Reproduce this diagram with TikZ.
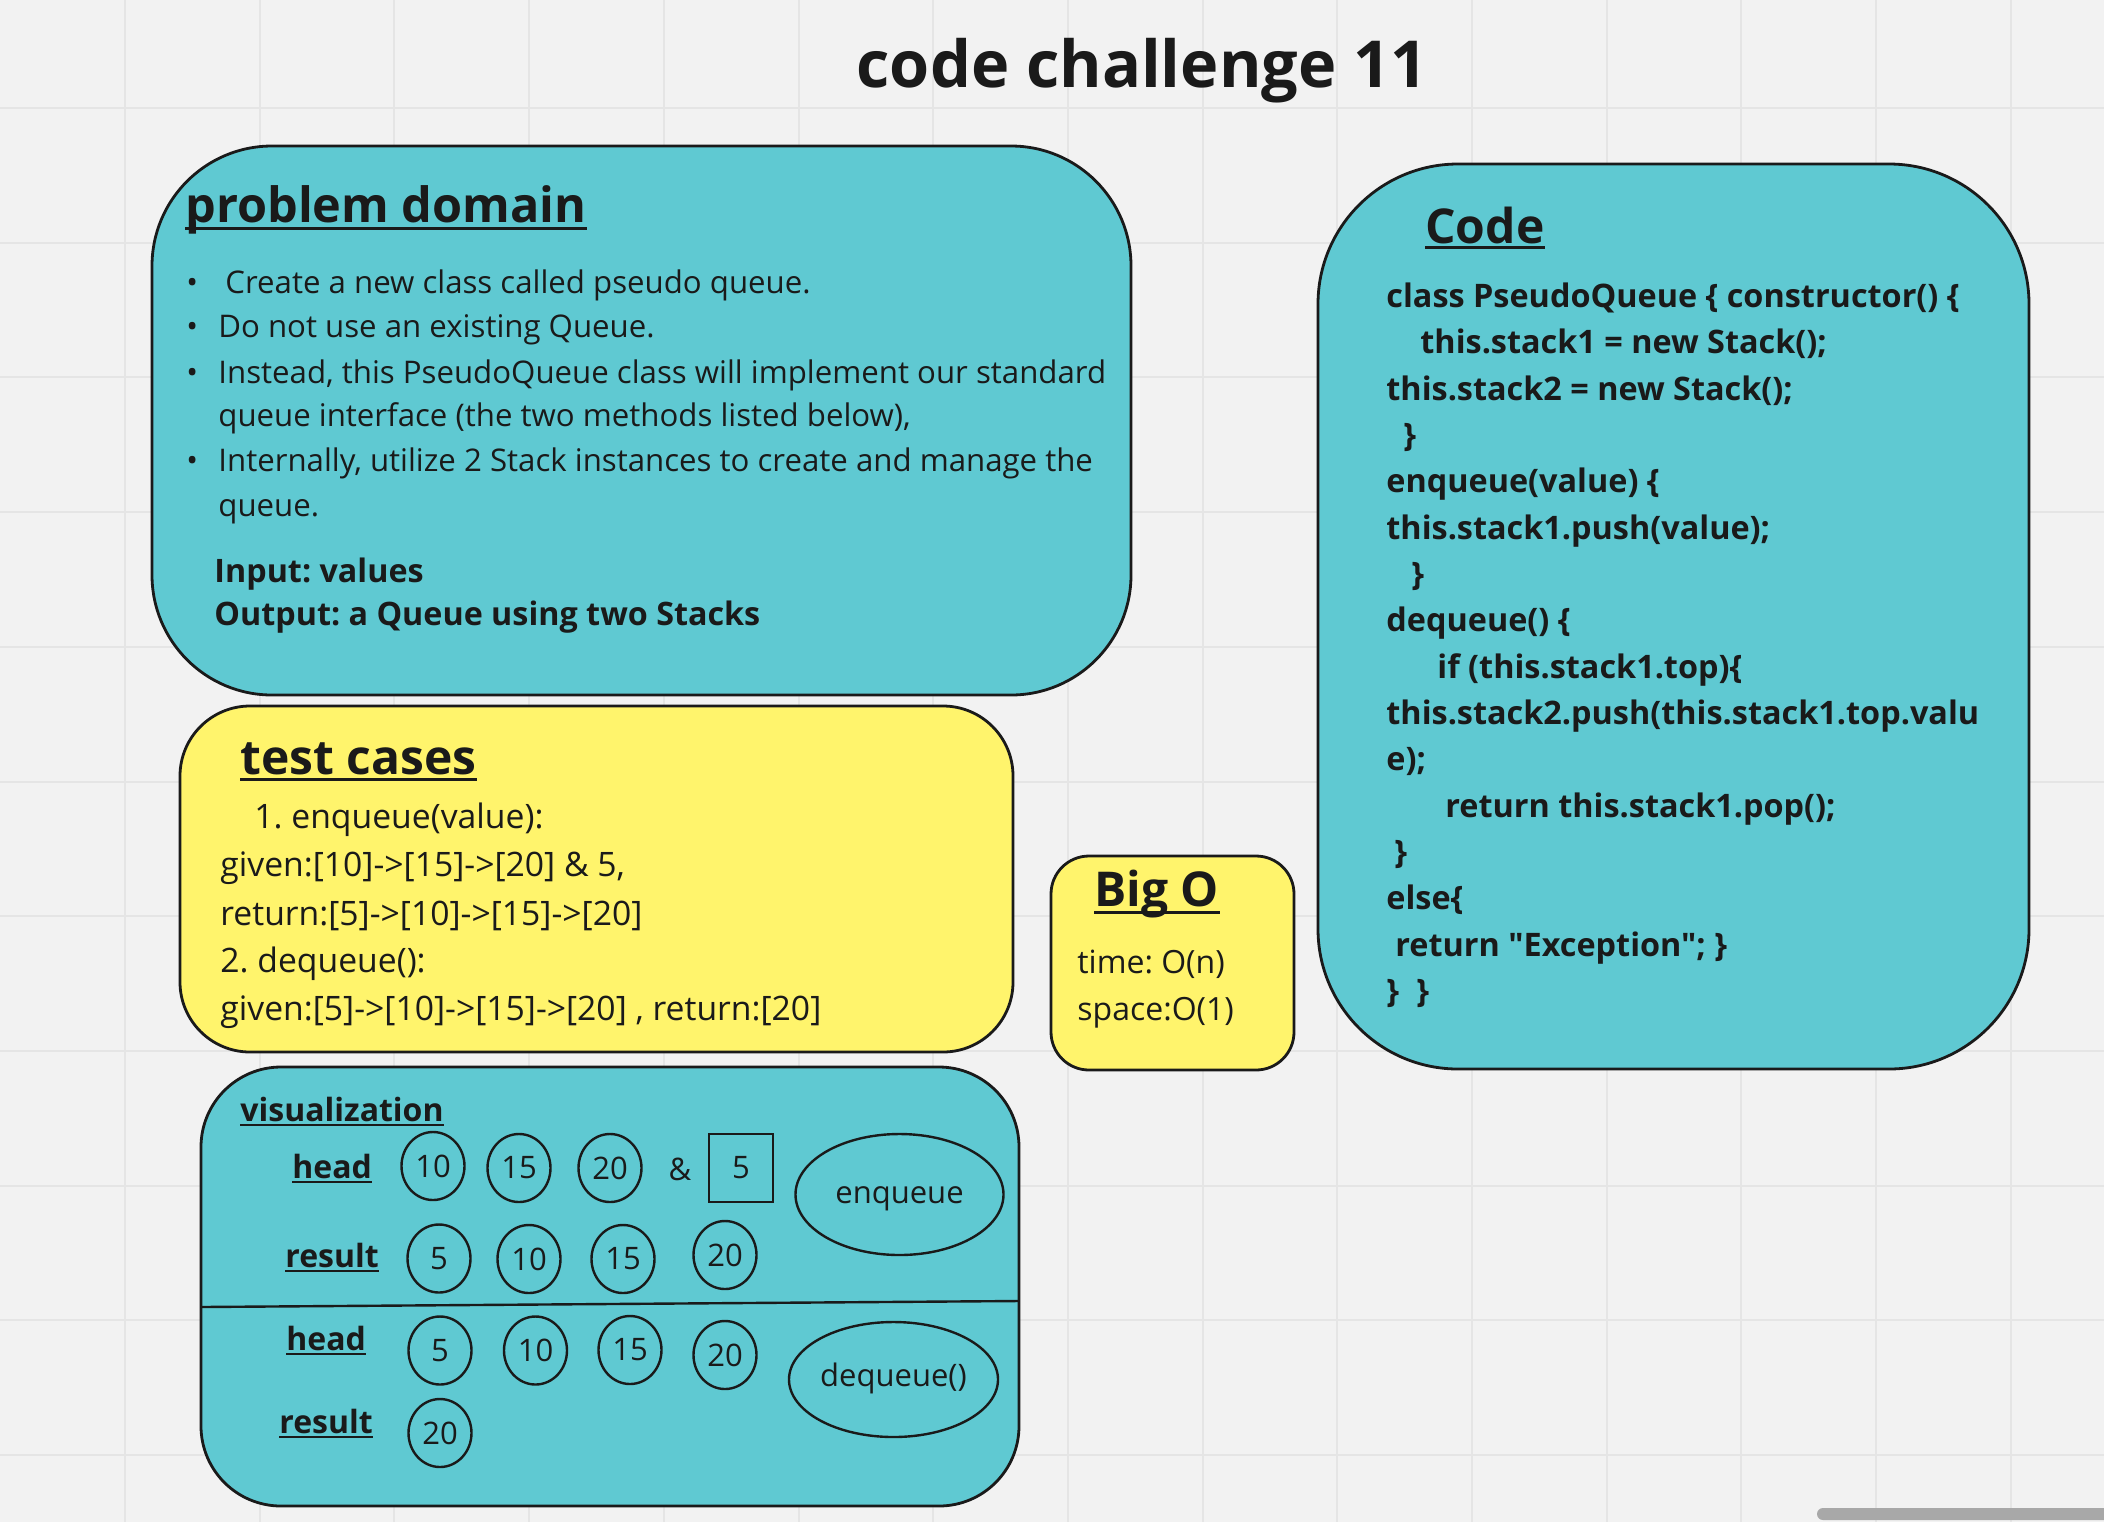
\documentclass[tikz,border=0pt]{standalone}
\usepackage{fontspec}
\setmainfont{Open Sans}
\newfontfamily\codefont{Open Sans}[Ligatures=TeXOff]
\frenchspacing
\usetikzlibrary{shapes.geometric}
\definecolor{bg}{HTML}{F2F2F2}
\definecolor{gridc}{HTML}{E5E5E5}
\definecolor{teal}{HTML}{5FC9D2}
\definecolor{yel}{HTML}{FFF46C}
\definecolor{ink}{HTML}{1A1A1A}
\definecolor{scroll}{HTML}{A8A8A8}
\tikzset{
  box/.style={draw=ink,line width=1.4pt},
  txt/.style={anchor=base west,inner sep=0pt,text=ink},
  body/.style={txt,font=\fontsize{15.6}{18}\selectfont},
  bodyb/.style={txt,font=\fontsize{16.15}{19}\bfseries\selectfont},
  tbody/.style={txt,font=\fontsize{16.85}{20}\selectfont},
  codet/.style={txt,font=\codefont\fontsize{16.2}{19}\bfseries\selectfont},
  bigt/.style={txt,font=\fontsize{24.3}{28}\bfseries\selectfont},
  lab/.style={txt,font=\fontsize{16}{19}\bfseries\selectfont},
  ul/.style={draw=ink,line width=1.5pt},
  uls/.style={draw=ink,line width=1pt},
  circ/.style={ellipse,draw=ink,line width=1.2pt,minimum width=31.5pt,minimum height=34pt,inner sep=0pt,text=ink,font=\fontsize{15.5}{18}\selectfont},
  oval/.style={ellipse,draw=ink,line width=1.2pt,inner sep=0pt},
  ovtxt/.style={anchor=base,inner sep=0pt,text=ink,font=\fontsize{15.5}{18}\selectfont},
}
\begin{document}
\begin{tikzpicture}[x=0.5pt,y=-0.5pt]
\useasboundingbox (0,0) rectangle (2104,1522);
\fill[bg] (0,0) rectangle (2104,1522);
% grid
\foreach \k in {0,...,14} \draw[gridc,line width=1pt] ({125+134.7*\k},0) -- ({125+134.7*\k},1522);
\foreach \k in {0,...,10} \draw[gridc,line width=1pt] (0,{108+134.7*\k}) -- (2104,{108+134.7*\k});
% scrollbar
\fill[scroll,rounded corners=3pt] (1817,1508) rectangle (2110,1520);

% title
\node[txt,anchor=base,font=\fontsize{32.4}{38}\bfseries\selectfont] (title) at (1142,87) {code challenge 11};

% problem domain
\draw[box,fill=teal,rounded corners=60pt] (152,146) rectangle (1131,695);
\node[bigt] (pdt) at (185,222) {problem domain};
\draw[ul] ([yshift=-3pt]pdt.base west) -- ([yshift=-3pt]pdt.base east);
\node[body] (b1) at (186,293) {•};
\node[body] (b2) at (186,337) {•};
\node[body] (b3) at (186,383) {•};
\node[body] (b4) at (186,471) {•};
\node[body] (p1) at (225,293) {Create a new class called pseudo queue.};
\node[body] (p2) at (218,337) {Do not use an existing Queue.};
\node[body] (p3) at (218,383) {Instead, this PseudoQueue class will implement our standard};
\node[body] (p4) at (218,426) {queue interface (the two methods listed below),};
\node[body] (p5) at (218,471) {Internally, utilize 2 Stack instances to create and manage the};
\node[body] (p6) at (218,516) {queue.};
\node[bodyb] (in) at (214,582) {Input: values};
\node[bodyb] (out) at (214,625) {Output: a Queue using two Stacks};

% test cases
\draw[box,fill=yel,rounded corners=35pt] (180,706) rectangle (1013,1052);
\node[txt,font=\fontsize{24}{28}\bfseries\selectfont] (tct) at (240,774) {test cases};
\draw[ul] ([yshift=-2.5pt]tct.base west) -- ([yshift=-2.5pt]tct.base east);
\node[tbody] (t1) at (254,828) {1. enqueue(value):};
\node[tbody] (t2) at (220,876) {given:[10]->[15]->[20] \& 5,};
\node[tbody] (t3) at (220,925) {return:[5]->[10]->[15]->[20]};
\node[tbody] (t4) at (220,972) {2. dequeue():};
\node[tbody] (t5) at (220,1020) {given:[5]->[10]->[15]->[20] , return:[20]};

% Big O
\draw[box,fill=yel,rounded corners=19pt] (1051,856) rectangle (1294,1070);
\node[txt,font=\fontsize{24}{28}\bfseries\selectfont] (bot) at (1094,906) {Big O};
\draw[ul] ([yshift=-3pt]bot.base west) -- ([yshift=-3pt]bot.base east);
\node[txt,font=\fontsize{16}{19}\selectfont] (bo1) at (1077,973) {time: O(n)};
\node[txt,font=\fontsize{16}{19}\selectfont] (bo2) at (1077,1020) {space:O(1)};

% Code
\draw[box,fill=teal,rounded corners=70pt] (1318,164) rectangle (2029,1069);
\node[txt,font=\fontsize{24}{28}\bfseries\selectfont] (cdt) at (1425,243) {Code};
\draw[ul] ([yshift=-2.2pt]cdt.base west) -- ([yshift=-2.2pt]cdt.base east);
\node[codet] (c1) at (1386,307) {class PseudoQueue \{ constructor() \{};
\node[codet] (c2) at (1420,353) {this.stack1 = new Stack();};
\node[codet] (c3) at (1386,400) {this.stack2 = new Stack();};
\node[codet] (c4) at (1403,446) {\}};
\node[codet] (c5) at (1386,492) {enqueue(value) \{};
\node[codet] (c6) at (1386,539) {this.stack1.push(value);};
\node[codet] (c7) at (1411,585) {\}};
\node[codet] (c8) at (1386,631) {dequeue() \{};
\node[codet] (c9) at (1437,678) {if (this.stack1.top)\{};
\node[codet] (c10) at (1386,724) {this.stack2.push(this.stack1.top.valu};
\node[codet] (c11) at (1386,770) {e);};
\node[codet] (c12) at (1445,817) {return this.stack1.pop();};
\node[codet] (c13) at (1394,863) {\}};
\node[codet] (c14) at (1386,909) {else\{};
\node[codet] (c15) at (1395,956) {return "Exception"; \}};
\node[codet] (c16) at (1386,1002) {\}};
\node[codet] (c16b) at (1416,1002) {\}};

% visualization
\draw[box,fill=teal,rounded corners=40pt] (201,1067) rectangle (1019,1506);
\draw[draw=ink,line width=1.2pt] (201,1307) -- (1019,1301);
\node[lab] (vt) at (240,1121) {visualization};
\draw[uls] ([yshift=-1.8pt]vt.base west) -- ([yshift=-1.8pt]vt.base east);
\node[lab] (h1) at (292,1178) {head};
\draw[uls] ([yshift=-2pt]h1.base west) -- ([yshift=-2pt]h1.base east);
\node[lab] (r1) at (285,1267) {result};
\draw[uls] ([yshift=-2pt]r1.base west) -- ([yshift=-2pt]r1.base east);
\node[lab] (h2) at (286,1350) {head};
\draw[uls] ([yshift=-2pt]h2.base west) -- ([yshift=-2pt]h2.base east);
\node[lab] (r2) at (279,1433) {result};
\draw[uls] ([yshift=-2pt]r2.base west) -- ([yshift=-2pt]r2.base east);

\node[circ] (a10) at (433,1166) {10};
\node[circ] (a15) at (519,1168) {15};
\node[circ] (a20) at (610,1168) {20};
\node[txt,anchor=center,font=\fontsize{15.5}{18}\selectfont] (amp) at (680,1169) {\&};
\node[draw=ink,line width=1.2pt,minimum width=32pt,minimum height=34pt,inner sep=0pt,text=ink,font=\fontsize{15.5}{18}\selectfont] (sq5) at (741,1168) {5};
\node[oval,minimum width=104pt,minimum height=60.5pt] (enq) at (899.5,1194.5) {};
\node[ovtxt] (enqt) at (899.5,1203) {enqueue};

\node[circ] (b5) at (439,1258.5) {5};
\node[circ] (b10) at (529,1259) {10};
\node[circ] (b15) at (623,1259) {15};
\node[circ] (b20) at (725,1255) {20};

\node[circ] (d5) at (440,1350.5) {5};
\node[circ] (d10) at (535.5,1350.5) {10};
\node[circ] (d15) at (630,1350) {15};
\node[circ] (d20) at (725,1355) {20};
\node[oval,minimum width=104.5pt,minimum height=57.5pt] (deq) at (893.5,1379.5) {};
\node[ovtxt] (deqt) at (893.5,1386) {dequeue()};

\node[circ] (e20) at (440,1433) {20};
\end{tikzpicture}
\end{document}
